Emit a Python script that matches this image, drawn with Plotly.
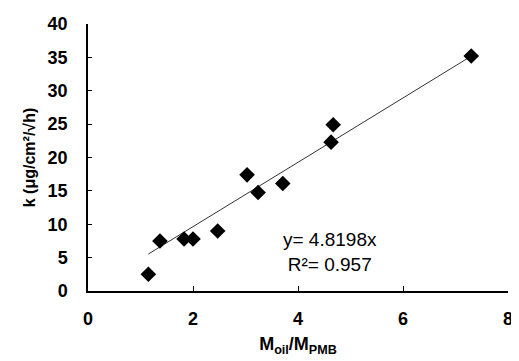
import plotly.graph_objects as go

x_ratio = [1.15, 1.37, 1.83, 2.0, 2.47, 3.03, 3.24, 3.71, 4.63, 4.67, 7.3]
k_values = [2.5, 7.5, 7.8, 7.8, 9.0, 17.4, 14.75, 16.1, 22.3, 24.9, 35.2]
slope = 4.8198
fit_x = [min(x_ratio), max(x_ratio)]
fit_y = [slope * v for v in fit_x]

fig = go.Figure()
fig.add_trace(go.Scatter(x=fit_x, y=fit_y, mode="lines",
                         line=dict(color="#333333", width=1), showlegend=False))
fig.add_trace(go.Scatter(x=x_ratio, y=k_values, mode="markers",
                         marker=dict(symbol="diamond", size=12, color="black"),
                         showlegend=False))

font = "Liberation Sans, Arial, sans-serif"
fig.add_annotation(x=4.6, y=5.8, xref="x", yref="y",
                   text="y= 4.8198x<br>R²= 0.957", showarrow=False,
                   font=dict(family=font, size=19, color="black"), align="center")

fig.update_layout(
    width=511, height=353,
    margin=dict(l=80, r=6, t=12, b=70),
    paper_bgcolor="white", plot_bgcolor="white",
    font=dict(family=font, color="black"),
)
fig.update_xaxes(range=[0, 8], dtick=2, showline=True, linecolor="black", linewidth=1.5,
                 ticks="inside", ticklen=5, tickcolor="black", showgrid=False, zeroline=False,
                 tickfont=dict(size=18, family=font, weight="bold"), ticklabelstandoff=11,
                 title=dict(text="<b>M<sub>oil</sub>/M<sub>PMB</sub></b>", font=dict(size=18, family=font), standoff=9))
fig.update_yaxes(range=[0, 40], dtick=5, showline=True, linecolor="black", linewidth=1.5,
                 ticks="inside", ticklen=4, tickcolor="black", showgrid=False, zeroline=False,
                 tickfont=dict(size=18, family=font, weight="bold"), ticklabelstandoff=15,
                 title=dict(text="<b>k (μg/cm²/√h)</b>", font=dict(size=16, family=font), standoff=8))

fig.write_html("out.html")
